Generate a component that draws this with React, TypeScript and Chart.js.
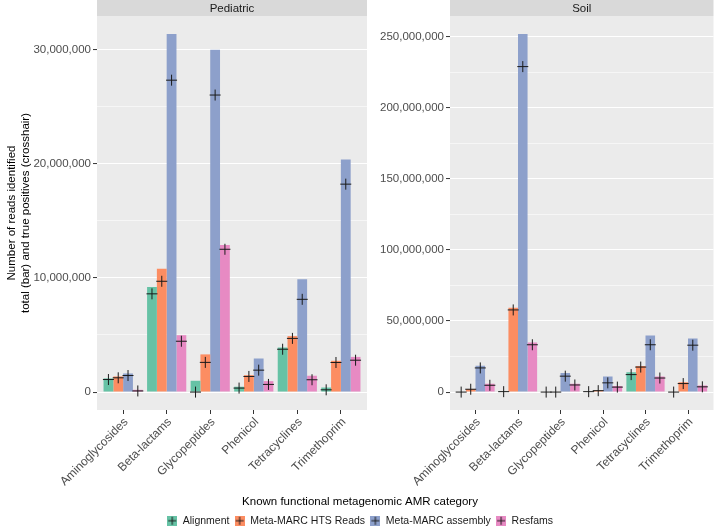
import React, { useEffect, useRef } from 'react';
import { Chart, registerables } from 'chart.js';

Chart.register(...registerables);

const FONT = "'Liberation Sans', Arial, Helvetica, sans-serif";
Chart.defaults.font.family = FONT;

// ---------- data (millions of reads) ----------
const categories = ['Aminoglycosides', 'Beta-lactams', 'Glycopeptides', 'Phenicol', 'Tetracyclines', 'Trimethoprim'];
const seriesNames = ['Alignment', 'Meta-MARC HTS Reads', 'Meta-MARC assembly', 'Resfams'];
const seriesColors = ['#66C2A5', '#FC8D62', '#8DA0CB', '#E78AC3'];
const MILLION = 1000000;

// Pediatric totals (bars)
const pedAlignmentTotal = [1.2, 9.2, 0.99, 0.47, 3.9, 0.4];
const pedHtsTotal = [1.37, 10.8, 3.3, 1.48, 4.9, 2.74];
const pedAssemblyTotal = [1.63, 31.35, 29.96, 2.94, 9.87, 20.35];
const pedResfamsTotal = [0.2, 4.98, 12.87, 0.96, 1.43, 3.08];
// Pediatric true positives (crosshairs)
const pedAlignmentTP = [1.1, 8.6, 0.0, 0.35, 3.75, 0.2];
const pedHtsTP = [1.25, 9.7, 2.6, 1.37, 4.7, 2.59];
const pedAssemblyTP = [1.45, 27.3, 26.0, 1.92, 8.12, 18.2];
const pedResfamsTP = [0.1, 4.45, 12.5, 0.67, 1.08, 2.79];

// Soil totals (bars)
const soilAlignmentTotal = [0, 0.3, 0, 0, 14, 0];
const soilHtsTotal = [2.2, 59.4, 0, 1.2, 18.4, 7];
const soilAssemblyTotal = [18.5, 252, 13.5, 10.9, 39.8, 37.7];
const soilResfamsTotal = [5.8, 34.9, 5.8, 4.2, 10.9, 4.6];
// Soil true positives (crosshairs)
const soilAlignmentTP = [0, 0.3, 0, 0.3, 12.3, 0];
const soilHtsTP = [2, 57.8, 0, 1, 17.6, 6];
const soilAssemblyTP = [17, 229, 11.2, 6.5, 33.3, 33];
const soilResfamsTP = [4.8, 33.3, 5, 3.5, 9.9, 3.7];

// tick values
const pedTicks = [0, 5, 10, 15, 20, 25, 30];
const soilTicks = [0, 25, 50, 75, 100, 125, 150, 175, 200, 225, 250];

// ---------- helpers ----------
const dodge = [-0.3375, -0.1125, 0.1125, 0.3375];

const facetPlugin = {
  id: 'facet',
  beforeDraw(chart: any, _args: any, opts: any) {
    const { ctx, chartArea: a } = chart;
    ctx.save();
    ctx.fillStyle = '#EBEBEB';
    ctx.fillRect(a.left, a.top, a.right - a.left, a.bottom - a.top);
    ctx.fillStyle = '#D9D9D9';
    ctx.fillRect(a.left, 0, a.right - a.left, a.top);
    ctx.fillStyle = '#1A1A1A';
    ctx.font = `11.5px ${FONT}`;
    ctx.textAlign = 'center';
    ctx.textBaseline = 'middle';
    ctx.fillText(opts.label, (a.left + a.right) / 2, a.top / 2 + 0.5);
    ctx.restore();
  },
};

function keyCanvas(color: string) {
  const s = 10;
  const c = document.createElement('canvas');
  c.width = s;
  c.height = s;
  const g = c.getContext('2d')!;
  g.fillStyle = color;
  g.fillRect(0, 0, s, s);
  g.strokeStyle = '#1A1A1A';
  g.lineWidth = 1;
  g.beginPath();
  g.moveTo(s / 2, 1);
  g.lineTo(s / 2, s - 1);
  g.moveTo(1, s / 2);
  g.lineTo(s - 1, s / 2);
  g.stroke();
  return c;
}

interface PanelSpec {
  label: string;
  totals: number[][];
  tps: number[][];
  ticks: number[];
  major: number;
  yMin: number;
  yMax: number;
  yWidth: number;
  left: boolean;
}

function buildConfig(p: PanelSpec): any {
  const barSets = seriesNames.map((name, j) => ({
    type: 'bar',
    label: name,
    data: p.totals[j].map((v, i) => ({ x: i + 1, y: v * MILLION })),
    backgroundColor: seriesColors[j],
    borderWidth: 0,
    barPercentage: 1,
    categoryPercentage: 0.9,
    order: 1,
    xAxisID: 'x',
    yAxisID: 'y',
  }));
  const crossSets = seriesNames.map((name, j) => ({
    type: 'scatter',
    label: name + ' true positives',
    data: p.tps[j].map((v, i) => ({ x: i + 1 + dodge[j], y: v * MILLION })),
    pointStyle: 'cross',
    pointRadius: 5.5,
    pointBorderWidth: 1,
    borderColor: '#1A1A1A',
    backgroundColor: '#1A1A1A',
    showLine: false,
    order: 0,
    xAxisID: 'x',
    yAxisID: 'y',
  }));

  const majorV = p.major * MILLION;
  const scales: any = {
    x: {
      type: 'linear',
      min: 0.4,
      max: 6.6,
      offset: false,
      afterBuildTicks: (s: any) => {
        s.ticks = categories.map((_, i) => ({ value: i + 1 }));
      },
      ticks: {
        autoSkip: false,
        minRotation: 45,
        maxRotation: 45,
        padding: 1,
        labelOffset: 3,
        color: '#4D4D4D',
        font: { size: 12, family: FONT },
        callback: (_v: any, idx: number) => categories[idx],
      },
      grid: { display: true, drawOnChartArea: false, offset: false, tickLength: 4, tickColor: '#333333', tickWidth: 1 },
      border: { display: false },
      afterFit: (s: any) => {
        const ch = s.chart;
        const th = p.left && ch.titleBlock ? ch.titleBlock.height : 0;
        const lh = p.left && ch.legend ? ch.legend.height : 0;
        s.height = 126 - th - lh;
      },
    },
    y: {
      type: 'linear',
      position: 'left',
      min: p.yMin * MILLION,
      max: p.yMax * MILLION,
      afterBuildTicks: (s: any) => {
        s.ticks = p.ticks.map((v) => ({ value: v * MILLION }));
      },
      ticks: {
        padding: 2,
        color: '#4D4D4D',
        font: { size: 11.5, family: FONT },
        callback: (v: number) => (Math.round(v) % majorV === 0 ? Math.round(v).toLocaleString('en-US') : ''),
      },
      grid: {
        color: '#FFFFFF',
        lineWidth: (c: any) => (c.tick && Math.round(c.tick.value) % majorV === 0 ? 1.1 : 0.55),
        tickLength: 4,
        tickWidth: 1,
        tickColor: (c: any) => (c.tick && Math.round(c.tick.value) % majorV === 0 ? '#333333' : 'rgba(0,0,0,0)'),
      },
      border: { display: false },
      title: p.left
        ? {
            display: true,
            text: ['Number of reads identified', 'total (bar) and true positives (crosshair)'],
            color: '#000000',
            font: { size: 11.5, family: FONT, lineHeight: 1.15 },
            padding: { top: 5.5, bottom: 0 },
          }
        : { display: false },
      afterFit: (s: any) => {
        s.width = p.yWidth;
      },
    },
  };
  if (p.left) {
    scales.spacer = {
      type: 'linear',
      position: 'right',
      display: true,
      grid: { display: false },
      ticks: { display: false },
      border: { display: false },
      afterFit: (s: any) => {
        s.width = 353;
      },
    };
  }

  const keys = seriesColors.map(keyCanvas);

  return {
    type: 'bar',
    data: { datasets: [...barSets, ...crossSets] },
    plugins: [facetPlugin],
    options: {
      responsive: false,
      maintainAspectRatio: false,
      animation: false,
      events: [],
      layout: { padding: { top: 16, right: p.left ? 0 : 2, bottom: 0, left: 0 } },
      scales,
      plugins: {
        facet: { label: p.label },
        tooltip: { enabled: false },
        title: p.left
          ? {
              display: true,
              position: 'bottom',
              weight: 500,
              text: 'Known functional metagenomic AMR category',
              color: '#000000',
              font: { size: 11.5, family: FONT, weight: 'normal', lineHeight: 1.2 },
              padding: { top: 4, bottom: 2 },
            }
          : { display: false },
        legend: p.left
          ? {
              display: true,
              position: 'bottom',
              weight: 1000,
              labels: {
                usePointStyle: true,
                padding: 5,
                color: '#1A1A1A',
                font: { size: 10.5, family: FONT },
                generateLabels: () =>
                  seriesNames.map((name, i) => ({
                    text: name,
                    fillStyle: seriesColors[i],
                    strokeStyle: seriesColors[i],
                    lineWidth: 0,
                    pointStyle: keys[i],
                    hidden: false,
                    datasetIndex: i,
                    fontColor: '#1A1A1A',
                  })),
              },
            }
          : { display: false },
      },
    },
  };
}

export default function App() {
  const leftRef = useRef<HTMLCanvasElement>(null);
  const rightRef = useRef<HTMLCanvasElement>(null);

  useEffect(() => {
    const left = new Chart(
      leftRef.current!,
      buildConfig({
        label: 'Pediatric',
        totals: [pedAlignmentTotal, pedHtsTotal, pedAssemblyTotal, pedResfamsTotal],
        tps: [pedAlignmentTP, pedHtsTP, pedAssemblyTP, pedResfamsTP],
        ticks: pedTicks,
        major: 10,
        yMin: -1.5675,
        yMax: 32.9175,
        yWidth: 97,
        left: true,
      })
    );
    const right = new Chart(
      rightRef.current!,
      buildConfig({
        label: 'Soil',
        totals: [soilAlignmentTotal, soilHtsTotal, soilAssemblyTotal, soilResfamsTotal],
        tps: [soilAlignmentTP, soilHtsTP, soilAssemblyTP, soilResfamsTP],
        ticks: soilTicks,
        major: 50,
        yMin: -12.6,
        yMax: 264.6,
        yWidth: 80,
        left: false,
      })
    );
    return () => {
      left.destroy();
      right.destroy();
    };
  }, []);

  return (
    <div style={{ position: 'absolute', left: 0, top: 0, width: 720, height: 526, overflow: 'hidden', background: '#FFFFFF' }}>
      <canvas ref={leftRef} width={720} height={536} style={{ position: 'absolute', left: 0, top: 0 }} />
      <canvas ref={rightRef} width={350} height={536} style={{ position: 'absolute', left: 370, top: 0 }} />
    </div>
  );
}
